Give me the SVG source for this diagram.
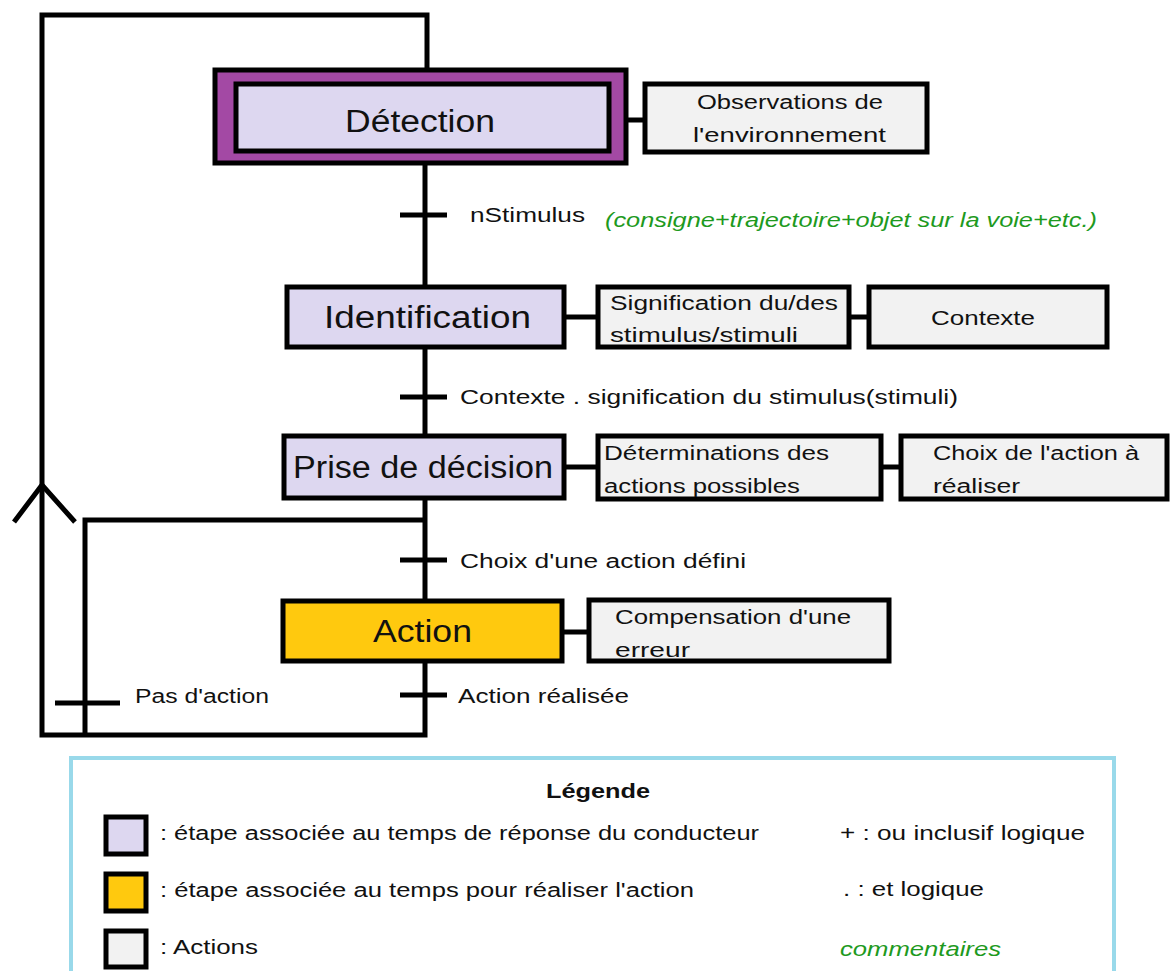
<svg xmlns="http://www.w3.org/2000/svg" width="1173" height="971" viewBox="0 0 1173 971">
<style>
text{font-family:"Liberation Sans",Arial,sans-serif;fill:#111}
.big{font-size:31px}
.sm{font-size:20px}
.gr{fill:#1E9A1E;font-style:italic;font-size:20px}
.step{fill:#DDD7F0;stroke:#000;stroke-width:5}
.act{fill:#F2F2F2;stroke:#000;stroke-width:5}
.yel{fill:#FFC90E;stroke:#000;stroke-width:5}
.ln{stroke:#000;stroke-width:5;fill:none}
</style>
<rect width="1173" height="971" fill="#fff"/>
<g id="connectors" class="ln">
<polyline points="427,68 427,15 42,15 42,735 425,735 425,662"/>
<polyline points="14,522 42,485 75,522"/>
<polyline points="85,735 85,520 425,520"/>
<line x1="55" y1="703" x2="120" y2="703"/>
<line x1="400" y1="695" x2="447" y2="695"/>
<line x1="425" y1="165" x2="425" y2="285"/>
<line x1="400" y1="215" x2="447" y2="215"/>
<line x1="425" y1="348" x2="425" y2="435"/>
<line x1="400" y1="397" x2="447" y2="397"/>
<line x1="425" y1="498" x2="425" y2="600"/>
<line x1="400" y1="560" x2="447" y2="560"/>
<line x1="628" y1="120" x2="643" y2="120"/>
<line x1="565" y1="317" x2="597" y2="317"/>
<line x1="850" y1="317" x2="868" y2="317"/>
<line x1="565" y1="467" x2="597" y2="467"/>
<line x1="882" y1="467" x2="900" y2="467"/>
<line x1="563" y1="632" x2="588" y2="632"/>
</g>
<g id="labels">
<text class="sm" x="470" y="222" textLength="115" lengthAdjust="spacingAndGlyphs">nStimulus</text>
<text class="gr" x="605" y="227" textLength="492" lengthAdjust="spacingAndGlyphs">(consigne+trajectoire+objet sur la voie+etc.)</text>
<text class="sm" x="460" y="404" textLength="498" lengthAdjust="spacingAndGlyphs">Contexte . signification du stimulus(stimuli)</text>
<text class="sm" x="460" y="568" textLength="286" lengthAdjust="spacingAndGlyphs">Choix d'une action défini</text>
<text class="sm" x="135" y="703" textLength="134" lengthAdjust="spacingAndGlyphs">Pas d'action</text>
<text class="sm" x="458" y="703" textLength="171" lengthAdjust="spacingAndGlyphs">Action réalisée</text>
</g>
<g id="detection">
<rect x="215" y="70" width="411" height="93" fill="#A349A4" stroke="#000" stroke-width="5"/>
<rect x="236" y="84" width="373" height="67" class="step"/>
<text class="big" x="345" y="132" textLength="150" lengthAdjust="spacingAndGlyphs">Détection</text>
</g>
<g id="observations">
<rect x="645" y="84" width="282" height="68" class="act"/>
<text class="sm" x="697" y="109" textLength="186" lengthAdjust="spacingAndGlyphs">Observations de</text>
<text class="sm" x="693" y="142" textLength="193" lengthAdjust="spacingAndGlyphs">l'environnement</text>
</g>
<g id="identification">
<rect x="287" y="287" width="277" height="60" class="step"/>
<text class="big" x="324" y="328" textLength="207" lengthAdjust="spacingAndGlyphs">Identification</text>
</g>
<g id="signification">
<rect x="598" y="287" width="251" height="60" class="act"/>
<text class="sm" x="610" y="310" textLength="228" lengthAdjust="spacingAndGlyphs">Signification du/des</text>
<text class="sm" x="610" y="342" textLength="188" lengthAdjust="spacingAndGlyphs">stimulus/stimuli</text>
</g>
<g id="contexte">
<rect x="869" y="287" width="238" height="60" class="act"/>
<text class="sm" x="931" y="325" textLength="104" lengthAdjust="spacingAndGlyphs">Contexte</text>
</g>
<g id="decision">
<rect x="284" y="436" width="280" height="62" class="step"/>
<text class="big" x="293" y="478" textLength="260" lengthAdjust="spacingAndGlyphs">Prise de décision</text>
</g>
<g id="determinations">
<rect x="598" y="436" width="283" height="63" class="act"/>
<text class="sm" x="604" y="460" textLength="225" lengthAdjust="spacingAndGlyphs">Déterminations des</text>
<text class="sm" x="604" y="493" textLength="196" lengthAdjust="spacingAndGlyphs">actions possibles</text>
</g>
<g id="choix">
<rect x="901" y="436" width="266" height="63" class="act"/>
<text class="sm" x="933" y="460" textLength="206" lengthAdjust="spacingAndGlyphs">Choix de l'action à</text>
<text class="sm" x="933" y="493" textLength="87" lengthAdjust="spacingAndGlyphs">réaliser</text>
</g>
<g id="action">
<rect x="283" y="601" width="279" height="60" class="yel"/>
<text class="big" x="373" y="642" textLength="99" lengthAdjust="spacingAndGlyphs">Action</text>
</g>
<g id="compensation">
<rect x="589" y="600" width="300" height="61" class="act"/>
<text class="sm" x="615" y="624" textLength="236" lengthAdjust="spacingAndGlyphs">Compensation d'une</text>
<text class="sm" x="615" y="657" textLength="75" lengthAdjust="spacingAndGlyphs">erreur</text>
</g>
<g id="legend">
<rect x="71" y="758" width="1043" height="220" fill="#fff" stroke="#99D9EA" stroke-width="4"/>
<text class="sm" x="546" y="798" font-weight="bold" textLength="104" lengthAdjust="spacingAndGlyphs">Légende</text>
<rect x="106" y="817" width="40" height="37" class="step"/>
<rect x="106" y="874" width="40" height="37" class="yel"/>
<rect x="106" y="931" width="40" height="36" class="act"/>
<text class="sm" x="160" y="840" textLength="599" lengthAdjust="spacingAndGlyphs">: étape associée au temps de réponse du conducteur</text>
<text class="sm" x="160" y="897" textLength="534" lengthAdjust="spacingAndGlyphs">: étape associée au temps pour réaliser l'action</text>
<text class="sm" x="160" y="954" textLength="98" lengthAdjust="spacingAndGlyphs">: Actions</text>
<text class="sm" x="840" y="840" textLength="245" lengthAdjust="spacingAndGlyphs">+ : ou inclusif logique</text>
<text class="sm" x="843" y="896" textLength="141" lengthAdjust="spacingAndGlyphs">. : et logique</text>
<text class="gr" x="840" y="956" textLength="161" lengthAdjust="spacingAndGlyphs">commentaires</text>
</g>
</svg>
